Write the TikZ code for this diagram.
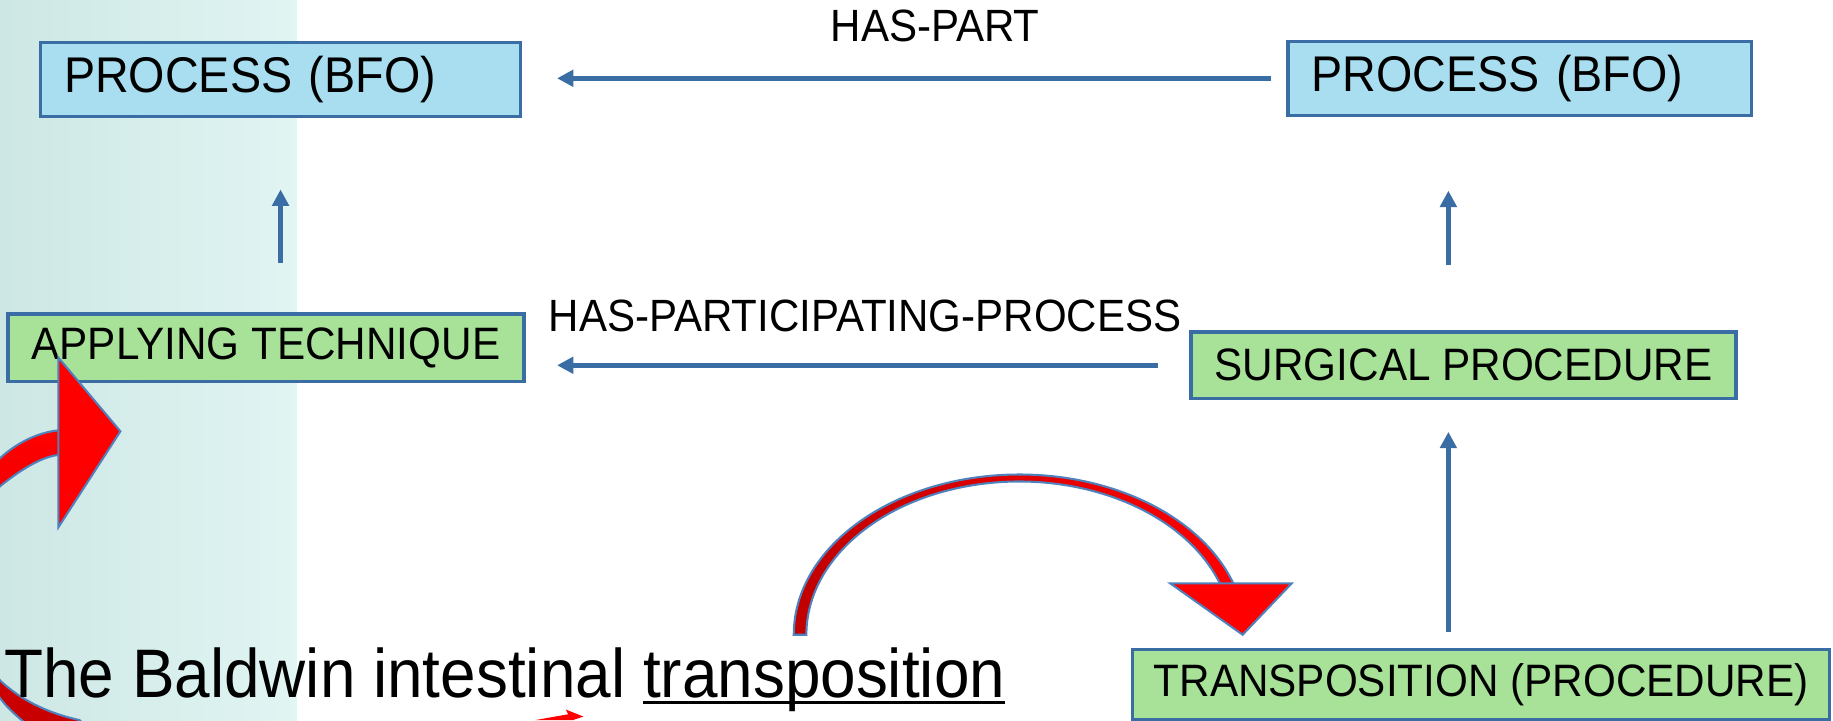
\documentclass[tikz,border=0pt]{standalone}
\usepackage{fontspec}
\setmainfont{Liberation Sans}[FakeStretch=0.93]
\usetikzlibrary{arrows.meta}
\definecolor{bfoblue}{HTML}{A8DEF0}
\definecolor{procgreen}{HTML}{A8E298}
\definecolor{edgeblue}{HTML}{3A6DA3}
\definecolor{tealleft}{HTML}{CDE7E4}
\definecolor{tealright}{HTML}{E1F5F3}
\definecolor{darkred}{HTML}{C00000}
\definecolor{rimblue}{HTML}{4F81BD}
\newcommand{\ulword}[1]{\setbox0\hbox{#1}\rlap{\rule[-1.4pt]{\wd0}{0.6pt}}\box0}
\begin{document}
\begin{tikzpicture}[x=0.01cm,y=0.01cm,
   bfobox/.style={draw=edgeblue,line width=0.8pt,fill=bfoblue,minimum height=0.62cm,align=left,inner xsep=0.2cm,font=\fontsize{12.2}{14}\selectfont},
   procbox/.style={draw=edgeblue,line width=0.8pt,fill=procgreen,minimum height=0.57cm,font=\fontsize{11.05}{13}\selectfont},
   link/.style={draw=edgeblue,line width=1.2pt,-{Triangle[length=0.14cm,width=0.14cm]}},
   rellabel/.style={font=\fontsize{11}{13}\selectfont,inner sep=0pt},
   redpart/.style={draw=rimblue,line width=0.5pt}]
   \useasboundingbox (0,0) rectangle (1568,616);
   \clip (0,0) rectangle (1568,616);
   \shade [left color=tealleft,right color=tealright] (0,0) rectangle (254,616);
   \node [bfobox,text width=3.7cm] (p1) at (240,548) {PROCESS (BFO)};
   \node [bfobox,text width=3.56cm] (p2) at (1300,549) {PROCESS (BFO)};
   \node [procbox,minimum width=4.41cm,minimum height=0.55cm] (tech) at (227.5,318.5) {APPLYING TECHNIQUE};
   \node [procbox,minimum width=4.66cm] (surg) at (1252,303.5) {SURGICAL PROCEDURE};
   \node [procbox,minimum width=5.96cm] (transp) at (1267,30.5) {TRANSPOSITION (PROCEDURE)};
   \node [rellabel] (haspart) at (800,594) {HAS-PART};
   \node [rellabel] (hasproc) at (740,346) {HAS-PARTICIPATING-PROCESS};
   \draw [link,shorten <=0.13cm,shorten >=0.3cm] (p2.west) -- (p2.west -| p1.east);
   \draw [link,shorten <=0.27cm,shorten >=0.27cm] (surg.west) -- (surg.west -| tech.east);
   \draw [link,shorten <=0.42cm,shorten >=0.61cm] (tech.north -| p1.south) -- (p1.south);
   \draw [link,shorten <=0.56cm,shorten >=0.63cm] ([xshift=-0.13cm]surg.north) -- ([xshift=-0.13cm]surg.north |- p2.south);
   \draw [link,shorten <=0.14cm,shorten >=0.27cm] ([xshift=-0.13cm]surg.south |- transp.north) -- ([xshift=-0.13cm]surg.south);
   \shade [redpart,top color=red,bottom color=darkred] (60,-30) .. controls (30,-10) and (10,5) .. (0,19) .. controls (-40,70) and (-40,180) .. (0,224) .. controls (15,238) and (35,247) .. (52,248) -- (52,227) .. controls (35,226) and (15,212) .. (0,200) .. controls (-20,180) and (-20,60) .. (0,34) .. controls (20,15) and (45,5) .. (68,0) -- (100,-30) -- cycle;
   \filldraw [redpart,fill=red] (50,310) -- (103,247) -- (50,165) -- cycle;
   \shade [redpart,left color=darkred,right color=red] (679,73) arc[start angle=180,end angle=18,x radius=1.93cm,y radius=1.37cm] -- (1045.1,113.5) arc[start angle=18,end angle=180,x radius=1.82cm,y radius=1.31cm] -- cycle;
   \filldraw [redpart,fill=red] (1001,117) -- (1105,117) -- (1063,73) -- cycle;
   \fill [red] (458,0) -- (486,5) -- (484,9) -- (499,3) -- (490,0) -- cycle;
   \node [anchor=base west,inner sep=0pt,font=\fontsize{16.7}{19}\selectfont] (title) at (3,19) {The Baldwin intestinal \ulword{transposition}};
\end{tikzpicture}
\end{document}
